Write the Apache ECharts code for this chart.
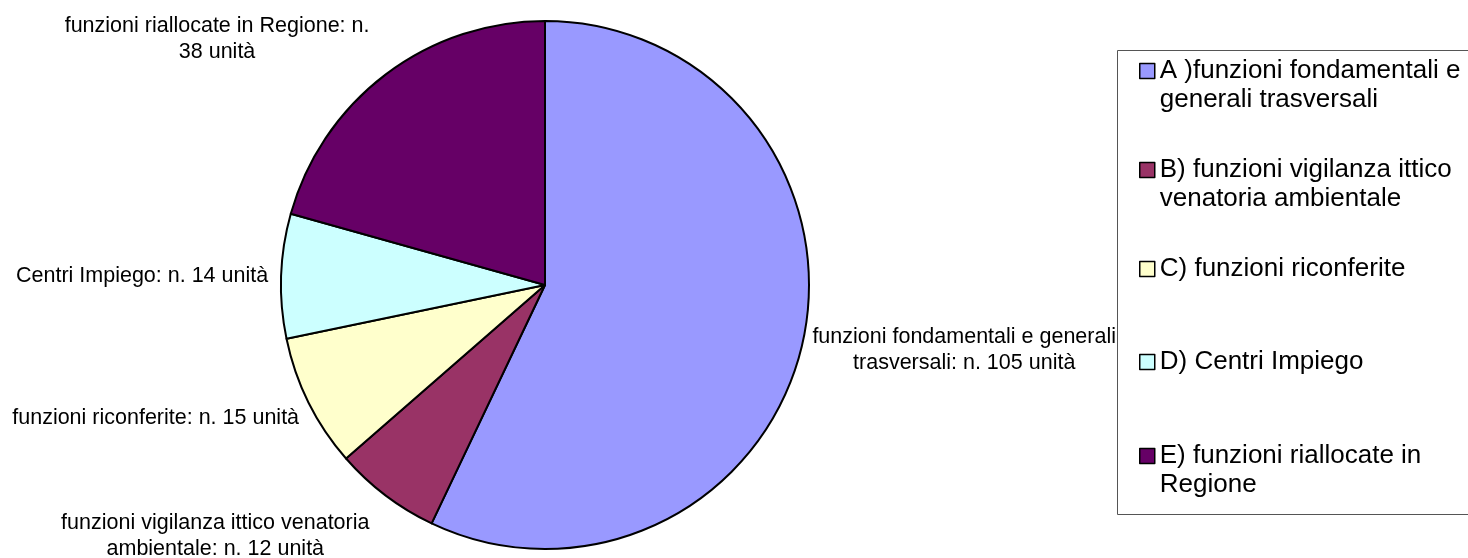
<!DOCTYPE html>
<html>
<head>
<meta charset="utf-8">
<script src="https://cdn.jsdelivr.net/npm/echarts@6/dist/echarts.min.js"></script>
<style>
  html, body { margin: 0; padding: 0; background: #fff; }
  #chart { width: 1468px; height: 558px; }
</style>
</head>
<body>
<div id="chart"></div>
<script>
// data
const legendNames = [
  "A )funzioni fondamentali e\ngenerali trasversali",
  "B) funzioni vigilanza ittico\nvenatoria ambientale",
  "C) funzioni riconferite",
  "D) Centri Impiego",
  "E) funzioni riallocate in\nRegione",
];
const labelTemplates = [
  "funzioni fondamentali e generali\ntrasversali: n. {v} unità",
  "funzioni vigilanza ittico venatoria\nambientale: n. {v} unità",
  "funzioni riconferite: n. {v} unità",
  "Centri Impiego: n. {v} unità",
  "funzioni riallocate in Regione: n.\n{v} unità",
];
const units = [105, 12, 15, 14, 38];

// styles
const sliceColors = ["#9999ff", "#993366", "#ffffcc", "#ccffff", "#660066"];
const legendTops = [27.5, 126.5, 254.5, 347.5, 412.5];
const labelShift = [[0, 6], [-8, 37], [0, 13], [-3, 0], [-8, -32]];
const FONT = "'Liberation Sans', Arial, sans-serif";

const chart = echarts.init(document.getElementById("chart"));

const legends = legendNames.map((name, i) => {
  const twoLines = name.indexOf("\n") >= 0;
  return {
    orient: "vertical",
    left: 1139,
    top: legendTops[i],
    padding: 0,
    itemWidth: 15,
    itemHeight: 15,
    icon: "rect",
    selectedMode: false,
    z: 5,
    itemStyle: { borderColor: "#000", borderWidth: 1.5 },
    textStyle: { fontFamily: FONT, fontSize: 26, lineHeight: 29, color: "#000" },
    // blank first line keeps the icon level with the first text line
    formatter: (n) => (twoLines ? "\n" + n : n),
    data: [name],
  };
});

const option = {
  backgroundColor: "#fff",
  animation: false,
  legend: legends,
  graphic: [
    {
      type: "rect",
      z: 3,
      shape: { x: 1117.5, y: 50.5, width: 400, height: 464 },
      style: { fill: "#fff", stroke: "#555", lineWidth: 1 },
    },
  ],
  series: [
    {
      type: "pie",
      center: [545, 285],
      radius: 264,
      startAngle: 90,
      clockwise: true,
      avoidLabelOverlap: false,
      z: 2,
      itemStyle: { borderColor: "#000", borderWidth: 2 },
      emphasis: { disabled: true },
      label: {
        show: true,
        position: "outside",
        fontFamily: FONT,
        fontSize: 21.5,
        lineHeight: 26,
        color: "#000",
        distanceToLabelLine: 5,
        formatter: (p) => labelTemplates[p.dataIndex].replace("{v}", p.value),
      },
      labelLine: { show: false, length: 5, length2: 0 },
      labelLayout: (p) => {
        const s = labelShift[p.dataIndex];
        return {
          x: p.labelRect.x + p.labelRect.width / 2 + s[0],
          y: p.labelRect.y + p.labelRect.height / 2 + s[1],
          align: "center",
          verticalAlign: "middle",
        };
      },
      data: legendNames.map((name, i) => ({
        name: name,
        value: units[i],
        itemStyle: { color: sliceColors[i] },
      })),
    },
  ],
};

chart.setOption(option);
</script>
</body>
</html>
